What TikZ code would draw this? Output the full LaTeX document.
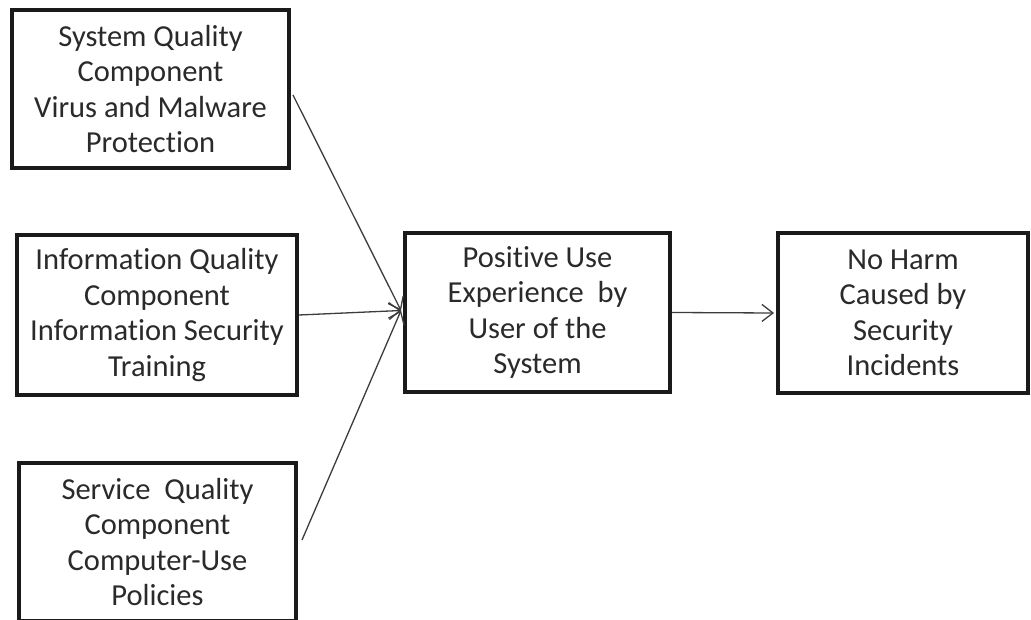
\documentclass[tikz,border=0pt]{standalone}
\usepackage{fontspec}
\setmainfont[Ligatures={NoCommon}]{Carlito}
\usetikzlibrary{arrows.meta,calc}
\definecolor{ink}{HTML}{1A1A1A}
\definecolor{txt}{HTML}{2A2A2A}
\tikzset{
  box/.style={draw=ink, line width=4pt, fill=white, align=center, inner sep=0pt,
    font=\fontsize{30.5}{35.5}\selectfont, text=txt},
  conn/.style={draw=ink!85, line width=1.3pt, -{Straight Barb[length=11pt,width=17pt,line width=1.3pt]}},
}
\begin{document}
\begin{tikzpicture}[x=1pt,y=-1pt]
\useasboundingbox (0,0) rectangle (1031,620);
\clip (0,0) rectangle (1031,620);
\node[box, minimum width=277pt, minimum height=158pt] (b1) at (150.5,89) {System Quality\\Component\\Virus and Malware\\Protection};
\node[box, minimum width=280pt, minimum height=160pt] (b2) at (157,315) {Information Quality\\Component\\Information Security\\Training};
\node[box, minimum width=277pt, minimum height=158pt] (b3) at (157.5,542) {Service\ \ Quality\\Component\\Computer-Use\\Policies};
\node[box, minimum width=265pt, minimum height=159pt] (c) at (537.5,312.5) {Positive Use\\Experience\ \ by\\User of the\\System};
\node[box, minimum width=250pt, minimum height=160pt] (r) at (903,313) {No Harm\\Caused by\\Security\\Incidents};
\coordinate (in) at ($(c.west)+(-2,-2)$);
\coordinate (s1) at ($(b1.east)+(2,6)$);
\coordinate (s3) at ($(b3.east)+(4,-2)$);
\draw[conn] (s1) -- (in);
\draw[conn] (b2.east) -- (in);
\draw[conn] (s3) -- (in);
\draw[conn] (c.east) -- ($(r.west)+(-2,0)$);
\end{tikzpicture}
\end{document}
